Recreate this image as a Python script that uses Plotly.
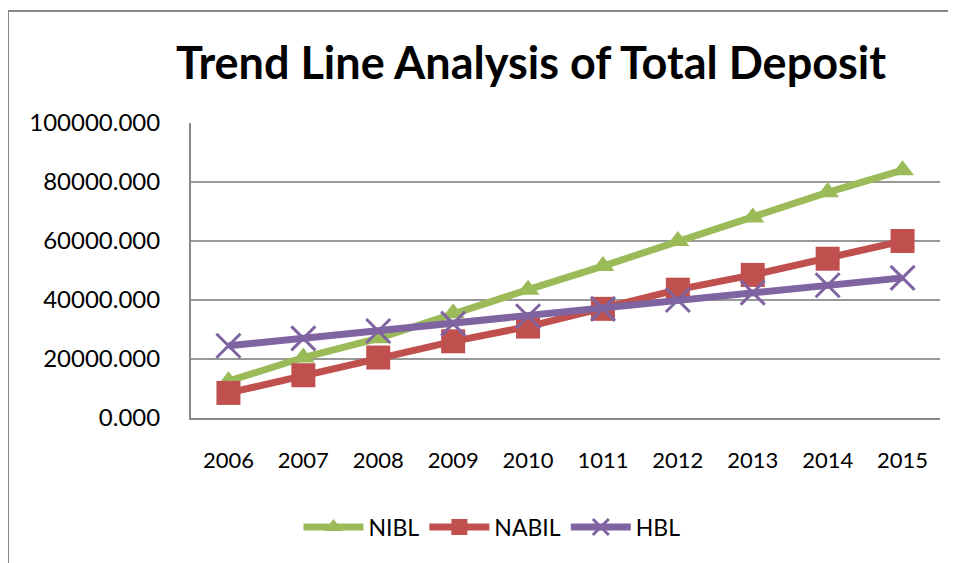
import plotly.graph_objects as go

years = ["2006", "2007", "2008", "2009", "2010", "1011", "2012", "2013", "2014", "2015"]
nibl = [12500, 20500, 27000, 35500, 43500, 51500, 60000, 68000, 76500, 84000]
nabil = [8500, 14500, 20500, 26000, 31000, 37000, 43500, 48500, 54000, 60000]
hbl = [24500, 27000, 29500, 32000, 34500, 37000, 40000, 42500, 45000, 47500]
y_ticks = [0, 20000, 40000, 60000, 80000, 100000]
y_tick_text = ["0.000", "20000.000", "40000.000", "60000.000", "80000.000", "100000.000"]

OFF = 8  # page body margin
W, H = 956 - OFF, 563 - OFF
# page coordinates of the plot area
PL, PR, PT, PB = 191, 940, 123, 418
L, T = PL - OFF, PT - OFF
R, B = W - (PR - OFF), H - (PB - OFF)
pw, ph = W - L - R, H - T - B

def px(x):
    return (x - OFF - L) / pw

def py(y):
    return (H - B - (y - OFF)) / ph

fig = go.Figure()
fig.add_trace(go.Scatter(
    x=years, y=nibl, name="NIBL", mode="lines+markers",
    line=dict(color="#9BBB59", width=7),
    marker=dict(symbol="triangle-up", size=20, color="#9BBB59"),
))
fig.add_trace(go.Scatter(
    x=years, y=nabil, name="NABIL", mode="lines+markers",
    line=dict(color="#C0504D", width=7),
    marker=dict(symbol="square", size=24, color="#C0504D"),
))
fig.add_trace(go.Scatter(
    x=years, y=hbl, name="HBL", mode="lines+markers",
    line=dict(color="#8064A2", width=7),
    marker=dict(symbol="x-thin", size=24, color="#8064A2",
                line=dict(color="#8064A2", width=3)),
))

fig.add_shape(type="rect", xref="paper", yref="paper",
              x0=px(8), x1=px(980), y0=py(11), y1=py(600),
              line=dict(color="#888888", width=2), fillcolor="rgba(0,0,0,0)",
              layer="below")

fig.update_layout(
    width=W, height=H,
    margin=dict(l=L, r=R, t=T, b=B),
    paper_bgcolor="white", plot_bgcolor="white",
    font=dict(family="Lato, Carlito, Calibri, sans-serif", color="black"),
    title=dict(text="<b>Trend Line Analysis of Total Deposit</b>",
               x=(531 - OFF) / W, xanchor="center",
               y=1 - (63 - OFF) / H, yanchor="middle",
               font=dict(size=45, color="black")),
    xaxis=dict(type="category", range=[-0.5, 9.5], showgrid=False,
               showline=True, linecolor="#888888", linewidth=2,
               ticks="", tickfont=dict(size=22), ticklabelstandoff=22),
    yaxis=dict(range=[0, 100000], tickvals=y_ticks, ticktext=y_tick_text,
               showgrid=True, gridcolor="#999999", gridwidth=2,
               showline=True, linecolor="#888888", linewidth=2,
               zeroline=False, ticks="", tickfont=dict(size=24),
               ticklabelstandoff=24),
    legend=dict(orientation="h", x=px(492), xanchor="center",
                y=py(527), yanchor="middle", font=dict(size=23),
                itemwidth=60, bgcolor="rgba(0,0,0,0)"),
    showlegend=True,
)

fig.write_html("out.html")
